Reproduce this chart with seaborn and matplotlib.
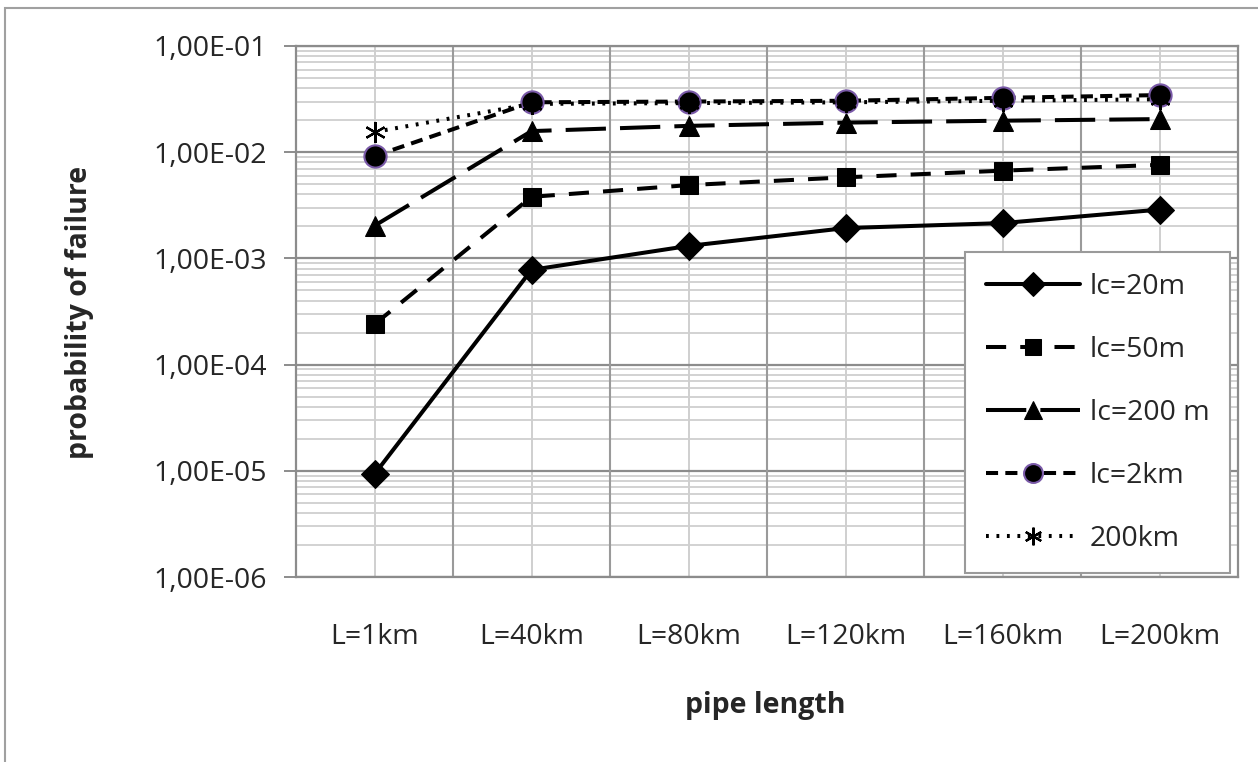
import numpy as np
import pandas as pd
import matplotlib
matplotlib.use("Agg")
import matplotlib.pyplot as plt
import matplotlib.ticker as mticker
from matplotlib.patches import Rectangle
import seaborn as sns

# ---- data ----
categories = ["L=1km", "L=40km", "L=80km", "L=120km", "L=160km", "L=200km"]
lc_20m = [9.3e-6, 7.8e-4, 1.31e-3, 1.93e-3, 2.15e-3, 2.88e-3]
lc_50m = [2.4e-4, 3.8e-3, 4.9e-3, 5.8e-3, 6.7e-3, 7.6e-3]
lc_200m = [2.03e-3, 1.58e-2, 1.77e-2, 1.9e-2, 1.98e-2, 2.05e-2]
lc_2km = [9.2e-3, 2.95e-2, 3.0e-2, 3.05e-2, 3.25e-2, 3.45e-2]
lc_200km = [1.55e-2, 2.85e-2, 2.9e-2, 2.95e-2, 3.05e-2, 3.15e-2]
series_names = ["lc=20m", "lc=50m", "lc=200 m", "lc=2km", "200km"]
y_ticks = [1e-6, 1e-5, 1e-4, 1e-3, 1e-2, 1e-1]

sns.set_theme(style="white")
plt.rcParams["font.family"] = ["Open Sans", "DejaVu Sans"]

FS = 20.5
W, H = 1258, 762
fig = plt.figure(figsize=(W / 100, H / 100), dpi=100)
fig.patch.set_facecolor("white")
L, R, T, B = 296, 1238, 46, 577
ax = fig.add_axes([L / W, 1 - B / H, (R - L) / W, (B - T) / H])

x = np.arange(len(categories))
series = [lc_20m, lc_50m, lc_200m, lc_2km, lc_200km]
styles = [
    dict(marker="D", markersize=14, linestyle="-"),
    dict(marker="s", markersize=13, linestyle=(0, (5, 3.5))),
    dict(marker="^", markersize=15, linestyle=(0, (10, 3.5))),
    dict(marker="o", markersize=16, linestyle=(0, (3, 1.8)),
         markeredgecolor="#7a5aa8", markeredgewidth=1.5),
    dict(marker=(6, 2, 0), markersize=15, linestyle=(0, (0.7, 1.9)),
         markeredgewidth=1.6),
]
for name, vals, st in zip(series_names, series, styles):
    df = pd.DataFrame({"x": x, "y": vals})
    kw = dict(color="black", linewidth=2.9, markerfacecolor="black",
              markeredgecolor="black")
    kw.update(st)
    sns.lineplot(data=df, x="x", y="y", ax=ax, label=name, **kw)

ax.set_yscale("log")
ax.set_ylim(1e-6, 1e-1)
ax.set_xlim(-0.5, len(categories) - 0.5)

# ticks
ax.set_yticks(y_ticks)
ax.yaxis.set_major_formatter(mticker.FuncFormatter(
    lambda v, p: "1,00E-%02d" % int(round(-np.log10(v)))))
ax.yaxis.set_minor_locator(mticker.LogLocator(base=10, subs=np.arange(2, 10), numticks=100))
ax.yaxis.set_minor_formatter(mticker.NullFormatter())
ax.tick_params(axis="y", which="major", direction="out", length=9, width=1.4,
               color="#8c8c8c", labelsize=FS, pad=12, left=True)
ax.tick_params(axis="y", which="minor", length=0)
ax.set_xticks(x)
ax.set_xticklabels(categories)
ax.tick_params(axis="x", which="both", length=0, labelsize=FS, pad=33)

# grid
ax.grid(False)
for v in y_ticks:
    ax.axhline(v, color="#8c8c8c", lw=1.6, zorder=0.5)
for d in range(-6, -1):
    for m in range(2, 10):
        ax.axhline(m * 10.0 ** d, color="#cfcfcf", lw=1.3, zorder=0.4)
for xi in x:
    ax.axvline(xi, color="#cfcfcf", lw=1.4, zorder=0.4)
for xi in np.arange(len(categories) - 1) + 0.5:
    ax.axvline(xi, color="#9a9a9a", lw=1.5, zorder=0.5)

for s in ax.spines.values():
    s.set_visible(True)
    s.set_color("#8c8c8c")
    s.set_linewidth(1.6)

# labels
ax.set_xlabel("pipe length", fontsize=FS, fontweight="bold")
ax.set_ylabel("probability of failure", fontsize=FS, fontweight="bold")
ax.xaxis.label.set_va("center")
ax.yaxis.label.set_va("center")
ax.xaxis.set_label_coords((765 - L) / (R - L), (B - 705) / (B - T))
ax.yaxis.set_label_coords((80 - L) / (R - L), (B - 312) / (B - T))

# legend
leg = ax.legend(loc="upper right", bbox_to_anchor=((1230 - L) / (R - L), (B - 252) / (B - T)),
                borderaxespad=0, fontsize=FS, handlelength=3.3, handletextpad=0.35,
                labelspacing=1.23, borderpad=0.72, fancybox=False, frameon=True,
                markerscale=0.85)
leg.get_frame().set_edgecolor("#9a9a9a")
leg.get_frame().set_linewidth(1.5)
leg.get_frame().set_facecolor("white")
leg.get_frame().set_alpha(1)

# outer chart border (left and top visible)
fig.add_artist(Rectangle((5 / W, -0.1), 1.5, 1.1 - 8 / H, transform=fig.transFigure,
                         fill=False, edgecolor="#a0a0a0", lw=1.5, clip_on=False))

fig.savefig("out.png", dpi=100, facecolor="white")
